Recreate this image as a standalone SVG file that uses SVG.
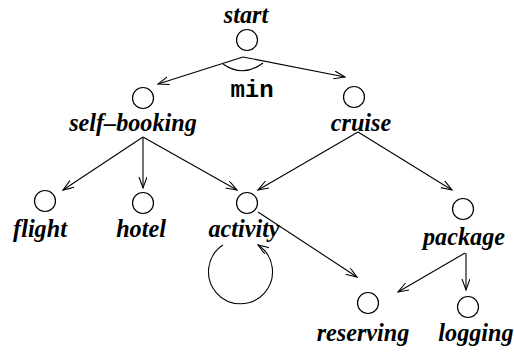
<svg xmlns="http://www.w3.org/2000/svg" width="514" height="354" viewBox="0 0 514 354">
<style>
.node circle{fill:none;stroke:#000;stroke-width:1.2}
.lbl{font-family:"Liberation Serif","Times New Roman",serif;font-weight:bold;font-style:italic;font-size:24.2px;text-anchor:middle;fill:#000}
.mono{font-family:"Liberation Mono","Courier New",monospace;font-weight:bold;font-size:24px;text-anchor:middle;fill:#000}
#connectors path,#connectors line{fill:none;stroke:#000;stroke-width:1.1}
</style>
<defs>
<marker id="arr" markerUnits="userSpaceOnUse" markerWidth="14" markerHeight="10" refX="11" refY="4" orient="auto" viewBox="0 0 14 10">
<path d="M0,0 L11,4 L0,8" fill="none" stroke="#000" stroke-width="1.1"/>
</marker>
</defs>
<rect width="514" height="354" fill="#fff"/>
<g id="connectors">
<line x1="243" y1="57" x2="158" y2="84" marker-end="url(#arr)"/>
<line x1="243" y1="57" x2="345" y2="77" marker-end="url(#arr)"/>
<path d="M223,64 Q243,78 263,63"/>
<line x1="143" y1="137" x2="63" y2="190" marker-end="url(#arr)"/>
<line x1="143" y1="137" x2="143" y2="188" marker-end="url(#arr)"/>
<line x1="143" y1="137" x2="237" y2="190" marker-end="url(#arr)"/>
<line x1="358" y1="132" x2="258" y2="190" marker-end="url(#arr)"/>
<line x1="358" y1="132" x2="452" y2="190" marker-end="url(#arr)"/>
<line x1="258" y1="212" x2="357" y2="277" marker-end="url(#arr)"/>
<line x1="465" y1="253" x2="398" y2="292" marker-end="url(#arr)"/>
<line x1="466" y1="253" x2="466" y2="290" marker-end="url(#arr)"/>
<path d="M223,245 A32,32 0 1 0 258,245" marker-end="url(#arr)"/>
</g>
<text class="mono" x="252" y="97">min</text>
<g id="start" class="node"><circle cx="247" cy="40" r="10.5"/><text class="lbl" x="246" y="23">start</text></g>
<g id="self-booking" class="node"><circle cx="143" cy="98" r="10.5"/><text class="lbl" x="133" y="131">self–booking</text></g>
<g id="cruise" class="node"><circle cx="354" cy="97" r="10.5"/><text class="lbl" x="361" y="131">cruise</text></g>
<g id="flight" class="node"><circle cx="45" cy="201" r="10.5"/><text class="lbl" x="40" y="237">flight</text></g>
<g id="hotel" class="node"><circle cx="143" cy="203" r="10.5"/><text class="lbl" x="141" y="237">hotel</text></g>
<g id="activity" class="node"><circle cx="247" cy="203" r="10.5"/><text class="lbl" x="244" y="237">activity</text></g>
<g id="package" class="node"><circle cx="463" cy="209" r="10.5"/><text class="lbl" x="464" y="245">package</text></g>
<g id="reserving" class="node"><circle cx="368" cy="303" r="10.5"/><text class="lbl" x="363" y="341">reserving</text></g>
<g id="logging" class="node"><circle cx="468" cy="307" r="10.5"/><text class="lbl" x="476" y="341">logging</text></g>
</svg>
